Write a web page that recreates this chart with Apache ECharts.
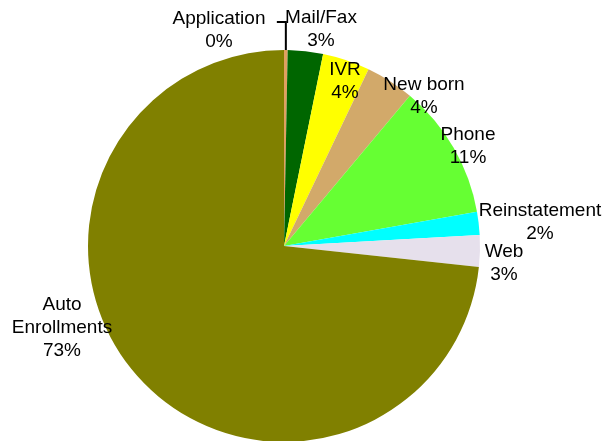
<!DOCTYPE html>
<html>
<head>
<meta charset="utf-8">
<script src="https://cdn.jsdelivr.net/npm/echarts@6/dist/echarts.min.js"></script>
<style>
  html, body { margin: 0; padding: 0; background: #fff; }
  #chart { width: 603px; height: 441px; }
</style>
</head>
<body>
<div id="chart"></div>
<script>
// values (percent of total)
const categories = ['Application', 'Mail/Fax', 'IVR', 'New born', 'Phone', 'Reinstatement', 'Web', 'Auto\nEnrollments']
const shares = [0.3, 2.9, 3.9, 4.0, 11.1, 1.9, 2.6, 73.3]
const colors = ['#E0A060', '#006600', '#FFFF00', '#D2A96A', '#66FF33', '#00FFFF', '#E6E0EC', '#808000']

// label centres, like the excel layout
const labelPos = [[219, 30], [321, 29], [345, 81], [424, 96], [468, 146], [540, 222], [504, 263], [62, 328]]

const chart = echarts.init(document.getElementById('chart'))

chart.setOption({
  animation: false,
  series: [
    {
      type: 'pie',
      center: [284, 246],
      radius: 196,
      startAngle: 90,
      clockwise: true,
      avoidLabelOverlap: false,
      itemStyle: { borderWidth: 0 },
      label: {
        show: true,
        position: 'outside',
        color: '#000',
        fontFamily: 'Liberation Sans, Arial, sans-serif',
        fontSize: 19,
        lineHeight: 23,
        align: 'center',
        formatter: p => p.name + '\n' + Math.round(p.value) + '%'
      },
      labelLine: { show: false },
      labelLayout: p => ({
        x: labelPos[p.dataIndex][0],
        y: labelPos[p.dataIndex][1],
        align: 'center',
        verticalAlign: 'middle'
      }),
      data: categories.map((c, i) => ({
        name: c,
        value: shares[i],
        itemStyle: { color: colors[i] }
      }))
    }
  ]
})

// leader line for the tiny Application slice, starting from its arc midpoint
const lay = chart.getModel().getSeriesByIndex(0).getData().getItemLayout(0)
const mid = (lay.startAngle + lay.endAngle) / 2
const ax = lay.cx + lay.r * Math.cos(mid)
const ay = lay.cy + lay.r * Math.sin(mid)
chart.setOption({
  graphic: [{
    type: 'polyline',
    shape: { points: [[ax, ay], [ax, 22], [ax - 9, 22]] },
    style: { stroke: '#000', lineWidth: 2, fill: null }
  }]
})
</script>
</body>
</html>
